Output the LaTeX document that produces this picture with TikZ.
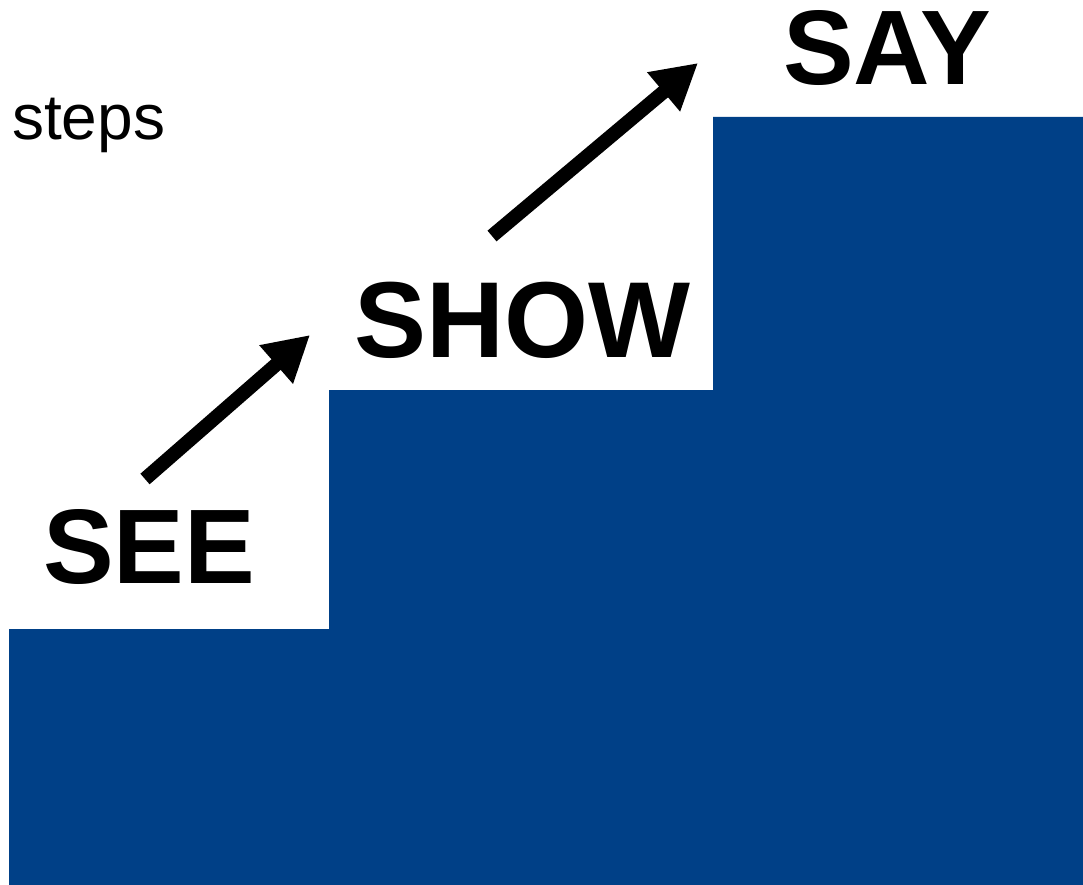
\documentclass[tikz,border=0pt]{standalone}
\usepackage{fontspec}
\setmainfont{Liberation Sans}
\usetikzlibrary{arrows.meta}
\definecolor{stairblue}{RGB}{0,64,135}

\begin{document}
\begin{tikzpicture}[
  x=1pt, y=-1pt,
  word/.style={anchor=base west, inner sep=0pt,
               font=\fontsize{106}{110}\selectfont\bfseries},
  stair/.style={fill=stairblue, draw=none},
  climb/.style={line width=14pt, -{Triangle[length=45pt, width=48pt]}},
]
\useasboundingbox (0,0) rectangle (1083,885);

% Staircase
\path[stair] (9,885) -- (9,629) -- (329,629) -- (329,390) -- (713,390)
  -- (713,117) -- (1083,117) -- (1083,885) -- cycle;

% Title
\node[anchor=base west, inner sep=0pt, font=\fontsize{64}{68}\selectfont]
  (title) at (12,140) {steps};

% Words on the steps
\node[word] (see) at (43,583) {SEE};
\node[word, font=\fontsize{108}{112}\selectfont\bfseries] (show) at (354,357) {SHOW};
\node[word] (say) at (783,85) {SAY};

% Arrows
\coordinate (seeup) at (145,479);
\coordinate (showin) at (310,335);
\coordinate (showup) at (492,236);
\coordinate (sayin) at (698,63);
\draw[climb] (seeup) -- (showin);
\draw[climb] (showup) -- (sayin);

\end{tikzpicture}
\end{document}
